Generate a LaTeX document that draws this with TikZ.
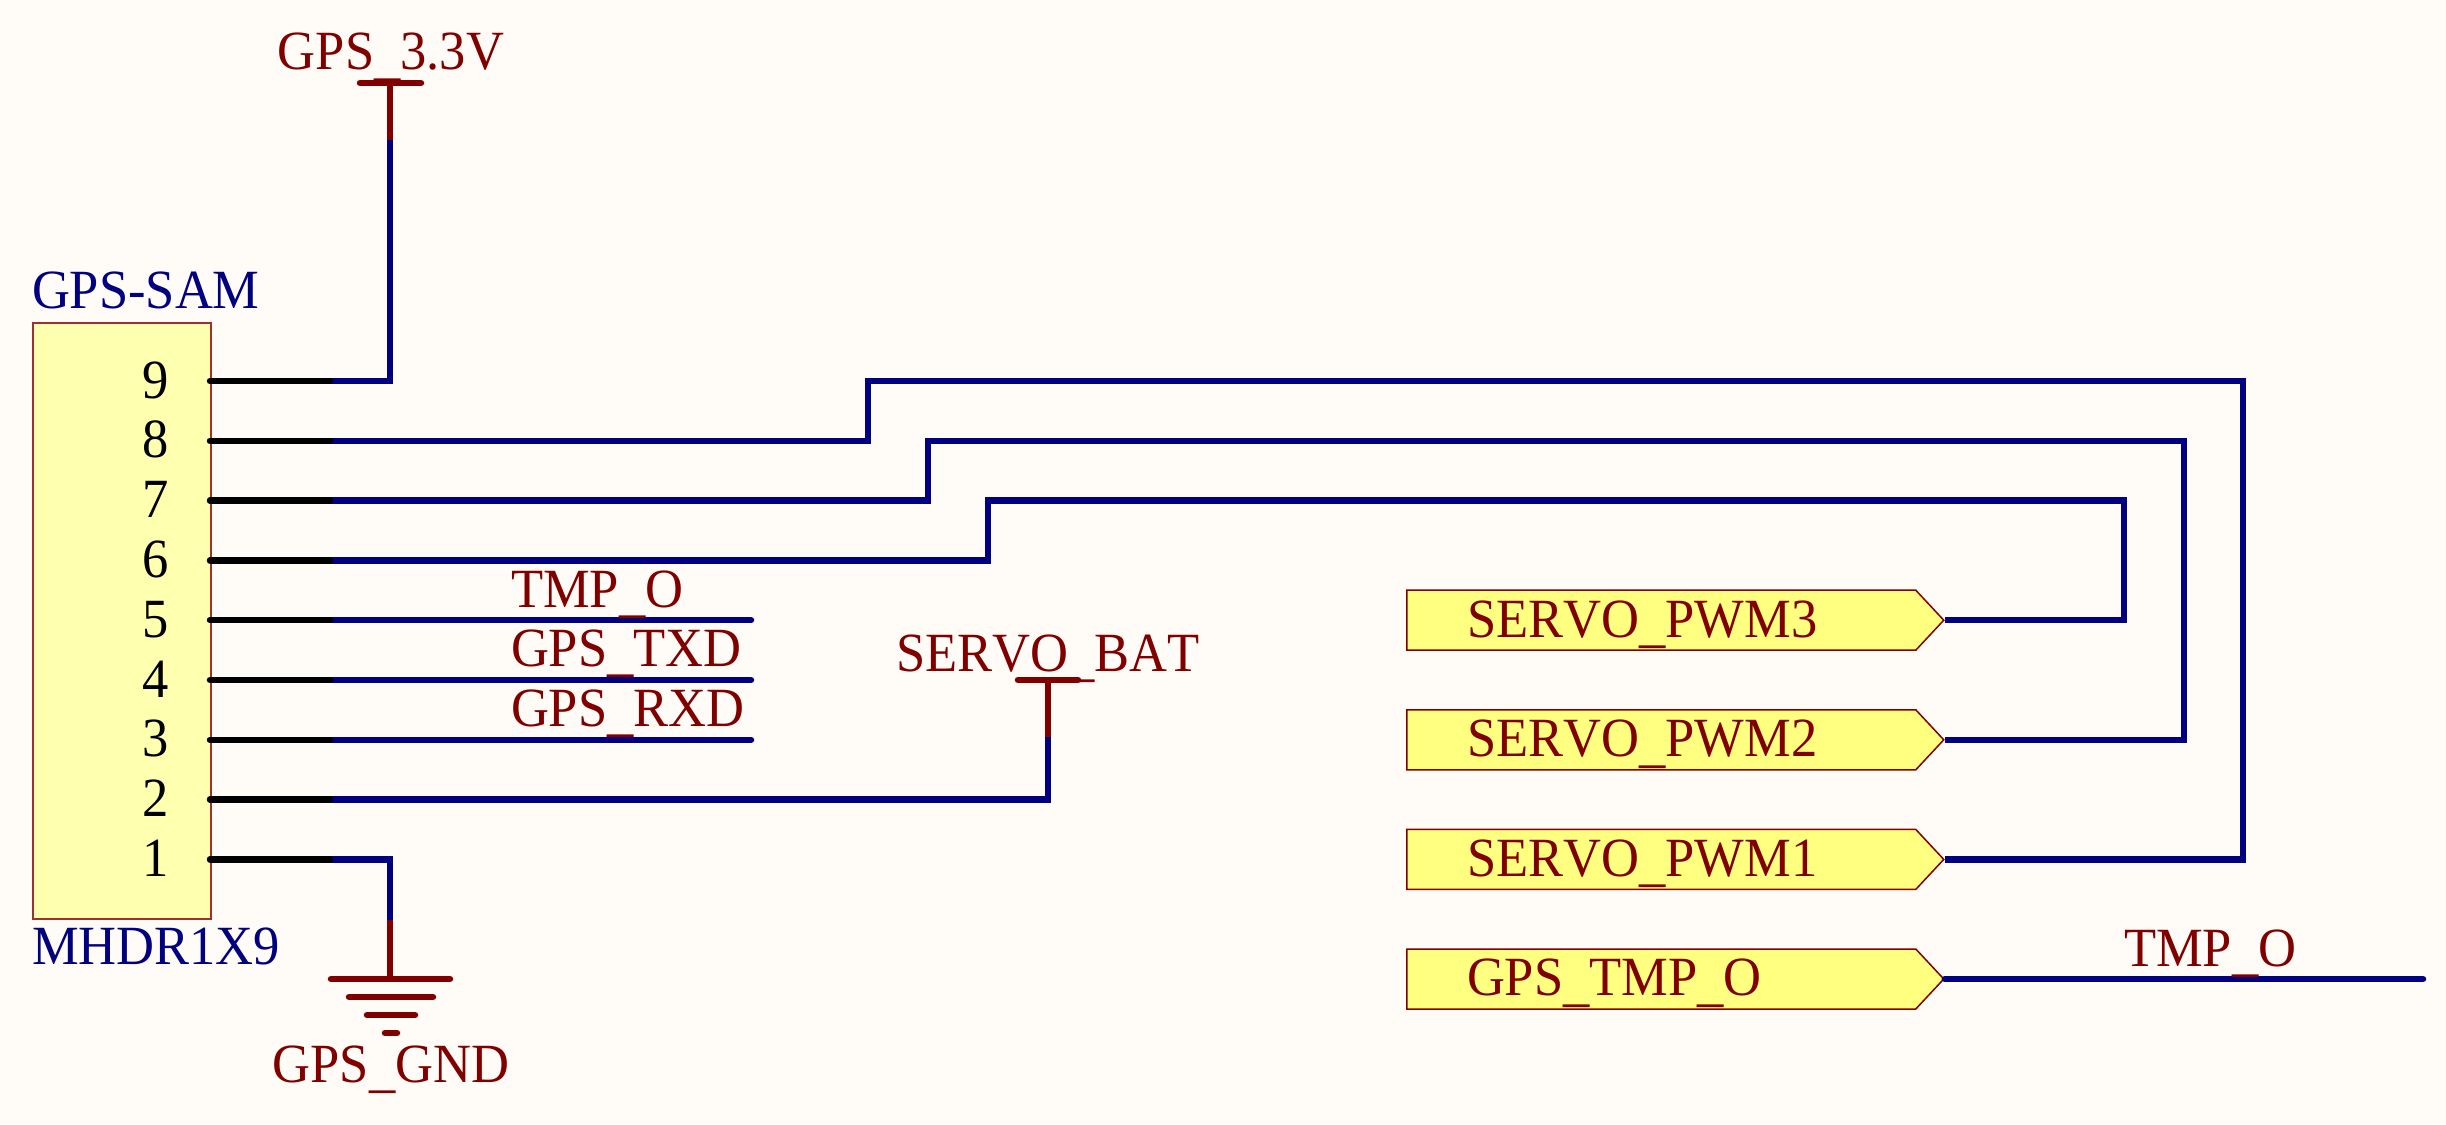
\documentclass[tikz,border=0pt]{standalone}
\usepackage{fontspec}
\setmainfont[Kerning=Off,Ligatures=NoCommon,FakeStretch=0.95]{Liberation Serif}
\usetikzlibrary{shapes.symbols}
\definecolor{bgc}{HTML}{FFFCF8}
\definecolor{wirec}{HTML}{000080}
\definecolor{pwrc}{HTML}{800000}
\definecolor{boxf}{HTML}{FFFFB0}
\definecolor{portf}{HTML}{FFFF80}
\definecolor{boxl}{HTML}{A03030}
\newcommand\lowus{\raisebox{-4.5pt}{\_}}
\tikzset{
  wire/.style={draw=wirec,line width=6.5pt,line join=miter},
  wireend/.style={wire,line cap=round},
  pinline/.style={draw=black,line width=6.5pt,line cap=round},
  pwrline/.style={draw=pwrc,line width=6.5pt},
  pwrbar/.style={draw=pwrc,line width=6.5pt,line cap=round},
  txt/.style={font=\fontsize{55.3}{55.3}\selectfont,inner sep=0pt,outer sep=0pt},
  netlab/.style={txt,text=pwrc,anchor=base west},
  powerlab/.style={txt,text=pwrc,anchor=base},
  complab/.style={txt,text=wirec,anchor=base west},
  pinnum/.style={txt,text=black,anchor=base east},
  portshape/.style={shape=signal,signal to=east,signal from=nowhere,signal pointer angle=94,
    draw=pwrc,line width=1.5pt,fill=portf,minimum width=537pt,minimum height=60pt,inner sep=0pt,anchor=west},
}
\begin{document}
\begin{tikzpicture}[x=1pt,y=-1pt]
\useasboundingbox (0,0) rectangle (2446,1124);
\fill[bgc] (0,0) rectangle (2446,1124);
% connector body
\node[draw=boxl,line width=1.5pt,fill=boxf,minimum width=178pt,minimum height=596pt,inner sep=0pt,anchor=north west] (hdr) at (32,322) {};
% pin end coordinates
\coordinate (a9) at (210,381);   \coordinate (b9) at (330,381);
\coordinate (a8) at (210,440.8); \coordinate (b8) at (330,440.8);
\coordinate (a7) at (210,500.6); \coordinate (b7) at (330,500.6);
\coordinate (a6) at (210,560.4); \coordinate (b6) at (330,560.4);
\coordinate (a5) at (210,620.2); \coordinate (b5) at (330,620.2);
\coordinate (a4) at (210,680);   \coordinate (b4) at (330,680);
\coordinate (a3) at (210,739.8); \coordinate (b3) at (330,739.8);
\coordinate (a2) at (210,799.6); \coordinate (b2) at (330,799.6);
\coordinate (a1) at (210,859.4); \coordinate (b1) at (330,859.4);
% power and ground
\coordinate (vcc) at (390,83);  \coordinate (vccj) at (390,140);
\coordinate (bat) at (1048,680); \coordinate (batj) at (1048,737);
\coordinate (gnd) at (390,979); \coordinate (gndj) at (390,920);
% ports
\node[portshape] (pwm3) at (1406,620.2) {};
\node[portshape] (pwm2) at (1406,739.8) {};
\node[portshape] (pwm1) at (1406,859.4) {};
\node[portshape] (tmp)  at (1406,979)   {};
% free ends
\coordinate (e5) at (751,620.2);
\coordinate (e4) at (751,680);
\coordinate (e3) at (751,739.8);
\coordinate (e0) at (2423,979);
% wires
\draw[wire] (b9) -| (vccj);
\draw[wire] (b8) -| (868,381) -| (2243,859.4) -- (pwm1.east);
\draw[wire] (b7) -| (928,440.8) -| (2184,739.8) -- (pwm2.east);
\draw[wire] (b6) -| (988,500.6) -| (2124,620.2) -- (pwm3.east);
\draw[wireend] (b5) -- (e5);
\draw[wireend] (b4) -- (e4);
\draw[wireend] (b3) -- (e3);
\draw[wire] (b2) -| (batj);
\draw[wire] (b1) -| (gndj);
\draw[wireend] (tmp.east) -- (e0);
% pins
\foreach \p in {1,...,9} {\draw[pinline] (a\p) -- (b\p);}
% power symbols
\draw[pwrline] (vcc) -- (vccj);
\draw[pwrbar] (360,83) -- (421,83);
\draw[pwrline] (bat) -- (batj);
\draw[pwrbar] (1018,680) -- (1078,680);
\draw[pwrline] (gnd) -- (gndj);
\draw[pwrbar] (331,979) -- (450,979);
\draw[pwrbar] (349,997) -- (433,997);
\draw[pwrbar] (367,1015) -- (415,1015);
\draw[pwrbar] (385,1033) -- (397,1033);
% labels
\node[powerlab] (lvcc) at (391,70) {GPS\lowus 3.3V};
\node[powerlab] (lbat) at (1048,671) {SERVO\lowus BAT};
\node[powerlab] (lgnd) at (391,1082) {GPS\lowus GND};
\node[complab] (ldes) at (32,308) {GPS-SAM};
\node[complab] (lval) at (32,964) {MHDR1X9};
\node[netlab] (n5) at (511,607) {TMP\lowus O};
\node[netlab] (n4) at (511,666) {GPS\lowus TXD};
\node[netlab] (n3) at (511,726) {GPS\lowus RXD};
\node[netlab] (n0) at (2124,966) {TMP\lowus O};
\node[netlab] (t3) at (1467,637) {SERVO\lowus PWM3};
\node[netlab] (t2) at (1467,756.6) {SERVO\lowus PWM2};
\node[netlab] (t1) at (1467,876.2) {SERVO\lowus PWM1};
\node[netlab] (t0) at (1467,995.8) {GPS\lowus TMP\lowus O};
\node[pinnum] (p9) at (169,398) {9};
\node[pinnum] (p8) at (169,457.8) {8};
\node[pinnum] (p7) at (169,517.6) {7};
\node[pinnum] (p6) at (169,577.4) {6};
\node[pinnum] (p5) at (169,637.2) {5};
\node[pinnum] (p4) at (169,697) {4};
\node[pinnum] (p3) at (169,756.8) {3};
\node[pinnum] (p2) at (169,816.6) {2};
\node[pinnum] (p1) at (169,876.4) {1};
\end{tikzpicture}
\end{document}
